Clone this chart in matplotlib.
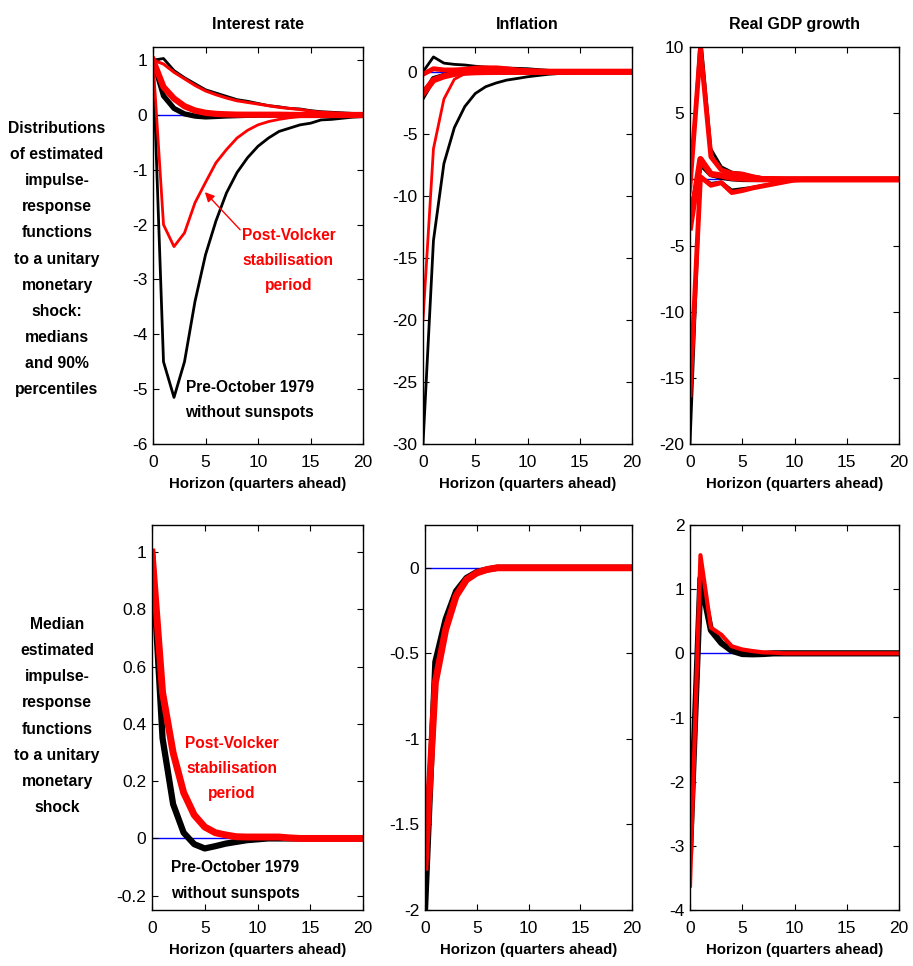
import numpy as np
import matplotlib
matplotlib.use("Agg")
import matplotlib.pyplot as plt
from matplotlib.ticker import FuncFormatter

FONT = ['Liberation Sans Narrow', 'Liberation Sans', 'DejaVu Sans']
plt.rcParams['font.family'] = FONT

horizon = list(range(21))

# ---- Interest rate ----
ir_pre_med = [1.0, 0.35, 0.12, 0.02, -0.02, -0.035, -0.027, -0.018, -0.012, -0.006, -0.003,
              0, 0, 0, 0, 0, 0, 0, 0, 0, 0]
ir_post_med = [1.0, 0.51, 0.30, 0.16, 0.082, 0.04, 0.02, 0.012, 0.006, 0.005, 0.005,
               0.005, 0.005, 0.002, 0, 0, 0, 0, 0, 0, 0]
ir_pre_hi = [1.0, 1.03, 0.81, 0.68, 0.57, 0.46, 0.40, 0.34, 0.28, 0.25, 0.21,
             0.17, 0.15, 0.12, 0.11, 0.08, 0.06, 0.05, 0.04, 0.03, 0.02]
ir_pre_lo = [1.0, -4.5, -5.15, -4.5, -3.4, -2.55, -1.93, -1.42, -1.05, -0.78, -0.57,
             -0.42, -0.30, -0.24, -0.18, -0.15, -0.09, -0.08, -0.06, -0.04, -0.03]
ir_post_hi = [1.0, 0.93, 0.78, 0.66, 0.54, 0.44, 0.37, 0.31, 0.26, 0.23, 0.20,
              0.17, 0.14, 0.12, 0.10, 0.07, 0.05, 0.04, 0.03, 0.02, 0.02]
ir_post_lo = [1.0, -2.0, -2.4, -2.15, -1.6, -1.23, -0.87, -0.63, -0.42, -0.28, -0.18,
              -0.12, -0.08, -0.05, -0.03, -0.02, -0.01, 0, 0, 0, 0]

# ---- Inflation ----
inf_pre_med = [-2.0, -0.55, -0.30, -0.137, -0.06, -0.025, -0.01, 0, 0, 0, 0,
               0, 0, 0, 0, 0, 0, 0, 0, 0, 0]
inf_post_med = [-1.75, -0.67, -0.36, -0.165, -0.07, -0.03, -0.01, 0, 0, 0, 0,
                0, 0, 0, 0, 0, 0, 0, 0, 0, 0]
inf_pre_hi = [0.0, 1.2, 0.7, 0.6, 0.55, 0.45, 0.38, 0.33, 0.30, 0.28, 0.25,
              0.18, 0.12, 0.08, 0.05, 0.03, 0.02, 0.01, 0, 0, 0]
inf_pre_lo = [-30.0, -13.6, -7.4, -4.5, -2.8, -1.75, -1.2, -0.9, -0.67, -0.54, -0.4,
              -0.3, -0.2, -0.14, -0.1, -0.07, -0.05, -0.03, -0.02, -0.01, 0]
inf_post_hi = [-0.2, 0.25, 0.15, 0.15, 0.2, 0.3, 0.32, 0.32, 0.25, 0.15, 0.1,
               0.05, 0.03, 0.02, 0.01, 0, 0, 0, 0, 0, 0]
inf_post_lo = [-20.0, -6.2, -2.2, -0.6, -0.15, -0.05, -0.02, 0, 0, 0, 0,
               0, 0, 0, 0, 0, 0, 0, 0, 0, 0]

# ---- Real GDP growth ----
gdp_pre_med = [-3.1, 1.17, 0.36, 0.16, 0.04, -0.01, -0.015, -0.01, 0, 0, 0,
               0, 0, 0, 0, 0, 0, 0, 0, 0, 0]
gdp_post_med = [-3.62, 1.53, 0.40, 0.29, 0.11, 0.06, 0.035, 0.015, 0.01, 0, 0,
                0, 0, 0, 0, 0, 0, 0, 0, 0, 0]
gdp_pre_hi = [-1.0, 11.0, 2.3, 0.95, 0.55, 0.45, 0.25, 0.12, 0.08, 0.05, 0.03,
              0.02, 0.01, 0, 0, 0, 0, 0, 0, 0, 0]
gdp_pre_lo = [-20.0, 0.2, -0.3, -0.2, -0.8, -0.7, -0.6, -0.45, -0.3, -0.2, -0.05,
              -0.02, 0, 0, 0, 0, 0, 0, 0, 0, 0]
gdp_post_hi = [-0.5, 9.9, 1.7, 0.7, 0.45, 0.4, 0.2, 0.05, 0.02, 0, 0,
               0, 0, 0, 0, 0, 0, 0, 0, 0, 0]
gdp_post_lo = [-16.3, 0.2, -0.45, -0.25, -1.0, -0.85, -0.65, -0.5, -0.35, -0.2, -0.05,
               0, 0, 0, 0, 0, 0, 0, 0, 0, 0]

col_titles = ["Interest rate", "Inflation", "Real GDP growth"]
xlabel_text = "Horizon (quarters ahead)"
row_label_top = ("Distributions\nof estimated\nimpulse-\nresponse\nfunctions\nto a unitary\n"
                 "monetary\nshock:\nmedians\nand 90%\npercentiles")
row_label_bottom = ("Median\nestimated\nimpulse-\nresponse\nfunctions\nto a unitary\n"
                    "monetary\nshock")
post_label = "Post-Volcker\nstabilisation\nperiod"
pre_label = "Pre-October 1979\nwithout sunspots"

W, H = 913, 966
fig = plt.figure(figsize=(W / 100, H / 100), dpi=100)


def px_axes(l, t, r, b):
    return fig.add_axes([l / W, 1 - b / H, (r - l) / W, (b - t) / H])


fmt = FuncFormatter(lambda v, p: ('%g' % round(v, 6)) if abs(v) > 1e-9 else '0')

ANN_SIZE = 11.2
ANN_LS = 1.85


def style(ax, ylim, yticks, xlabel=True):
    ax.set_xlim(0, 20)
    ax.set_ylim(*ylim)
    ax.set_xticks([0, 5, 10, 15, 20])
    ax.set_yticks(yticks)
    ax.yaxis.set_major_formatter(fmt)
    ax.tick_params(direction='in', length=4, width=0.8, top=True, right=True,
                   labelsize=12.5, colors='black')
    ax.tick_params(axis='x', pad=8)
    ax.tick_params(axis='y', pad=4)
    for s in ax.spines.values():
        s.set_linewidth(1.0)
        s.set_color('black')
    if xlabel:
        ax.set_xlabel(xlabel_text, fontsize=10.8, fontweight='bold', labelpad=5)


def zero(ax):
    ax.plot([0, 20], [0, 0], color='blue', lw=1.0, zorder=1)


# ---------- top row ----------
ax1 = px_axes(153, 47, 363, 444)
zero(ax1)
ax1.plot(horizon, ir_pre_hi, color='black', lw=2.0)
ax1.plot(horizon, ir_pre_lo, color='black', lw=2.0)
ax1.plot(horizon, ir_pre_med, color='black', lw=3.8)
ax1.plot(horizon, ir_post_hi, color='red', lw=2.2)
ax1.plot(horizon, ir_post_lo, color='red', lw=2.0)
ax1.plot(horizon, ir_post_med, color='red', lw=4.5)
style(ax1, (-6, 1.24), list(range(-6, 2)))
ax1.set_title(col_titles[0], fontsize=11.5, fontweight='bold', pad=13)
ax1.text(12.9, -2.65, post_label, color='red', fontsize=ANN_SIZE, fontweight='bold',
         ha='center', va='center', linespacing=ANN_LS)
ax1.annotate('', xy=(4.76, -1.37), xytext=(8.48, -2.13),
             arrowprops=dict(arrowstyle='-|>', color='red', lw=1.0, mutation_scale=14))
ax1.text(9.2, -5.2, pre_label, color='black', fontsize=ANN_SIZE, fontweight='bold',
         ha='center', va='center', linespacing=ANN_LS)

ax2 = px_axes(423, 47, 632, 444)
zero(ax2)
ax2.plot(horizon, inf_pre_hi, color='black', lw=2.0)
ax2.plot(horizon, inf_pre_lo, color='black', lw=2.0)
ax2.plot(horizon, inf_pre_med, color='black', lw=3.8)
ax2.plot(horizon, inf_post_lo, color='red', lw=2.0)
ax2.plot(horizon, inf_post_hi, color='red', lw=3.5)
ax2.plot(horizon, inf_post_med, color='red', lw=4.5)
style(ax2, (-30, 2), list(range(-30, 1, 5)))
ax2.set_title(col_titles[1], fontsize=11.5, fontweight='bold', pad=13)

ax3 = px_axes(690, 47, 899, 444)
zero(ax3)
ax3.plot(horizon, gdp_pre_hi, color='black', lw=2.0)
ax3.plot(horizon, gdp_pre_lo, color='black', lw=2.0)
ax3.plot(horizon, gdp_pre_med, color='black', lw=3.8)
ax3.plot(horizon, gdp_post_hi, color='red', lw=3.5)
ax3.plot(horizon, gdp_post_lo, color='red', lw=3.5)
ax3.plot(horizon, gdp_post_med, color='red', lw=4.5)
style(ax3, (-20, 10), list(range(-20, 11, 5)))
ax3.set_title(col_titles[2], fontsize=11.5, fontweight='bold', pad=13)

# ---------- bottom row ----------
ax4 = px_axes(152, 525, 363, 910)
zero(ax4)
ax4.plot(horizon, ir_pre_med, color='black', lw=4.5)
ax4.plot(horizon, ir_post_med, color='red', lw=5.0)
style(ax4, (-0.25, 1.095), [-0.2, 0, 0.2, 0.4, 0.6, 0.8, 1.0])
ax4.text(7.6, 0.245, post_label, color='red', fontsize=ANN_SIZE, fontweight='bold',
         ha='center', va='center', linespacing=ANN_LS)
ax4.text(7.9, -0.147, pre_label, color='black', fontsize=ANN_SIZE, fontweight='bold',
         ha='center', va='center', linespacing=ANN_LS)

ax5 = px_axes(425, 525, 632, 910)
zero(ax5)
ax5.plot(horizon, inf_pre_med, color='black', lw=4.5)
ax5.plot(horizon, inf_post_med, color='red', lw=5.0)
style(ax5, (-2, 0.25), [-2, -1.5, -1, -0.5, 0])

ax6 = px_axes(690, 525, 899, 910)
zero(ax6)
ax6.plot(horizon, gdp_pre_med, color='black', lw=4.5)
ax6.plot(horizon, gdp_post_med, color='red', lw=3.0)
style(ax6, (-4, 2), list(range(-4, 3)))

# ---------- row labels ----------
fig.text(57 / W, 1 - 259 / H, row_label_top, fontsize=11.3, fontweight='bold',
         ha='center', va='center', linespacing=1.92)
fig.text(57 / W, 1 - 716 / H, row_label_bottom, fontsize=11.3, fontweight='bold',
         ha='center', va='center', linespacing=1.92)

fig.savefig('out.png', dpi=100, facecolor='white')
